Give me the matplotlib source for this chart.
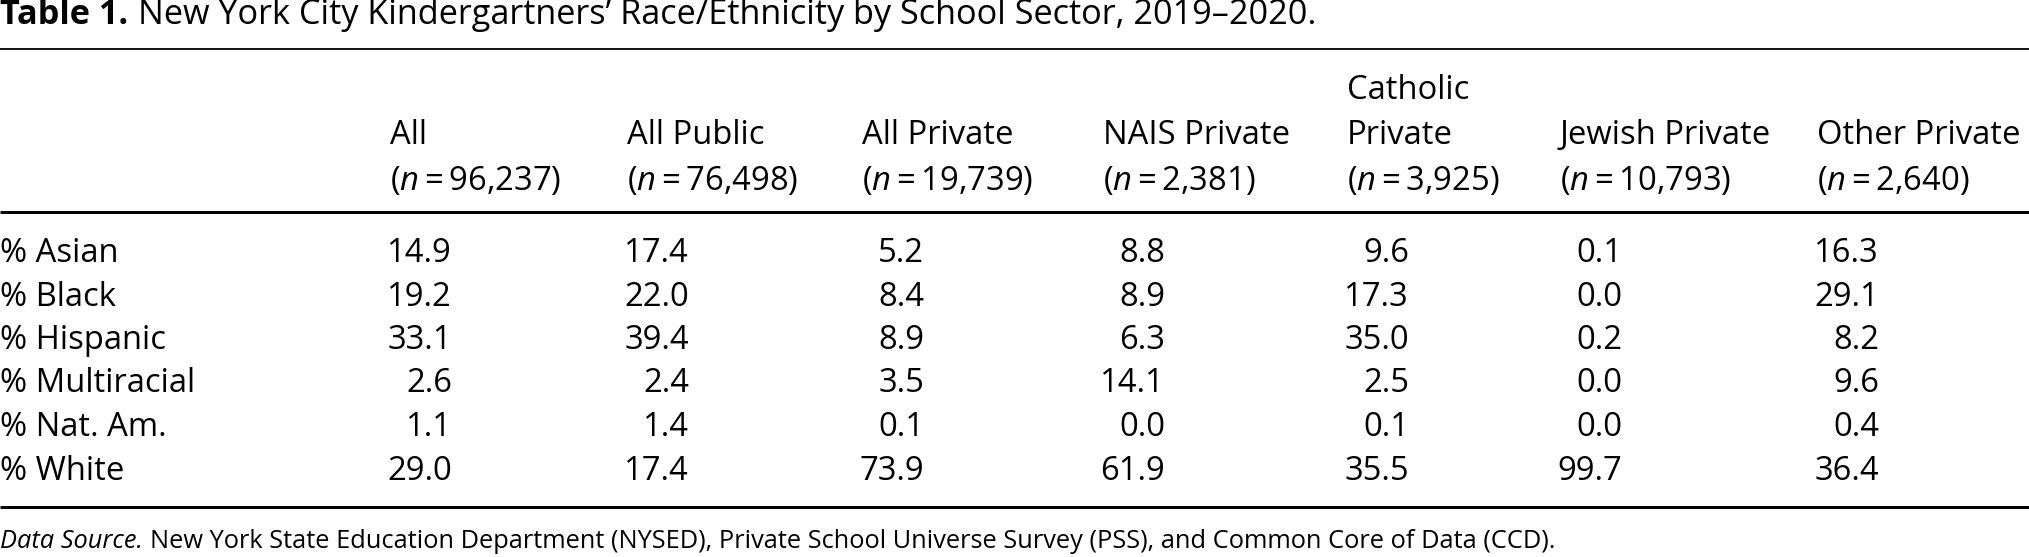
import matplotlib
matplotlib.use("Agg")
import matplotlib.pyplot as plt

# table content
title_bold = "Table 1."
title_rest = "New York City Kindergartners\u2019 Race/Ethnicity by School Sector, 2019\u20132020."
col_top = ["", "", "", "", "Catholic", "", ""]
col_names = ["All", "All Public", "All Private", "NAIS Private", "Private", "Jewish Private", "Other Private"]
col_n = ["96,237", "76,498", "19,739", "2,381", "3,925", "10,793", "2,640"]
row_labels = ["% Asian", "% Black", "% Hispanic", "% Multiracial", "% Nat. Am.", "% White"]

all_k = [14.9, 19.2, 33.1, 2.6, 1.1, 29.0]
all_public = [17.4, 22.0, 39.4, 2.4, 1.4, 17.4]
all_private = [5.2, 8.4, 8.9, 3.5, 0.1, 73.9]
nais_private = [8.8, 8.9, 6.3, 14.1, 0.0, 61.9]
catholic_private = [9.6, 17.3, 35.0, 2.5, 0.1, 35.5]
jewish_private = [0.1, 0.0, 0.2, 0.0, 0.0, 99.7]
other_private = [16.3, 29.1, 8.2, 9.6, 0.4, 36.4]
columns = [all_k, all_public, all_private, nais_private, catholic_private, jewish_private, other_private]

source_it = "Data Source."
source_rest = "New York State Education Department (NYSED), Private School Universe Survey (PSS), and Common Core of Data (CCD)."

FONT = "Open Sans"
plt.rcParams['font.family'] = [FONT, 'DejaVu Sans']
plt.rcParams['mathtext.fontset'] = 'custom'
plt.rcParams['mathtext.rm'] = FONT
plt.rcParams['mathtext.it'] = FONT + ':italic'
plt.rcParams['mathtext.bf'] = FONT + ':bold'

W, H = 2029, 557
fig = plt.figure(figsize=(W / 100, H / 100), dpi=100)
ax = fig.add_axes([0, 0, 1, 1])
ax.set_xlim(0, W)
ax.set_ylim(H, 0)
ax.axis('off')
r = fig.canvas.get_renderer()

def width_px(s, fs, **kw):
    t = ax.text(0, 0, s, fontsize=fs, **kw)
    w = t.get_window_extent(r).width
    t.remove()
    return w

def fit_pair(a, akw, b, target):
    # size so that a + space + b spans target pixels
    wa = width_px(a, 20, **akw)
    wb = width_px(b, 20)
    gap = 0.28 * 20 * 100 / 72
    fs = 20 * target / (wa + gap + wb)
    return fs, wa * fs / 20 + gap * fs / 20

FS = 20 * 138 / width_px("All Public", 20)
FS_T, title_off = fit_pair(title_bold, dict(fontweight='bold'), title_rest, 1318)
FS_S, source_off = fit_pair(source_it, dict(style='italic'), source_rest, 1556)

# title
ax.text(0, 24, title_bold, fontsize=FS_T, fontweight='bold', va='baseline')
ax.text(title_off, 24, title_rest, fontsize=FS_T, va='baseline')

# rules
ax.plot([0, W], [49, 49], color='black', lw=1.3, solid_capstyle='butt')
ax.plot([0, W], [212, 212], color='black', lw=2.1, solid_capstyle='butt')
ax.plot([0, W], [507, 507], color='black', lw=2.1, solid_capstyle='butt')

col_x = [390, 627, 862, 1103, 1347, 1560, 1817]
row_y0, row_dy = 262, 43.5

for j, x in enumerate(col_x):
    if col_top[j]:
        ax.text(x, 99, col_top[j], fontsize=FS, va='baseline')
    ax.text(x, 144, col_names[j], fontsize=FS, va='baseline')
    ax.text(x, 190, "($n = $" + col_n[j] + ")", fontsize=FS, va='baseline')
    for i, v in enumerate(columns[j]):
        ax.text(x + 62, row_y0 + i * row_dy, f"{v:.1f}", fontsize=FS,
                va='baseline', ha='right')

for i, lab in enumerate(row_labels):
    ax.text(0, row_y0 + i * row_dy, lab, fontsize=FS, va='baseline')

# source note
ax.text(0, 548, source_it, fontsize=FS_S, style='italic', va='baseline')
ax.text(source_off, 548, source_rest, fontsize=FS_S, va='baseline')

fig.savefig("out.png", dpi=100, facecolor='white')
